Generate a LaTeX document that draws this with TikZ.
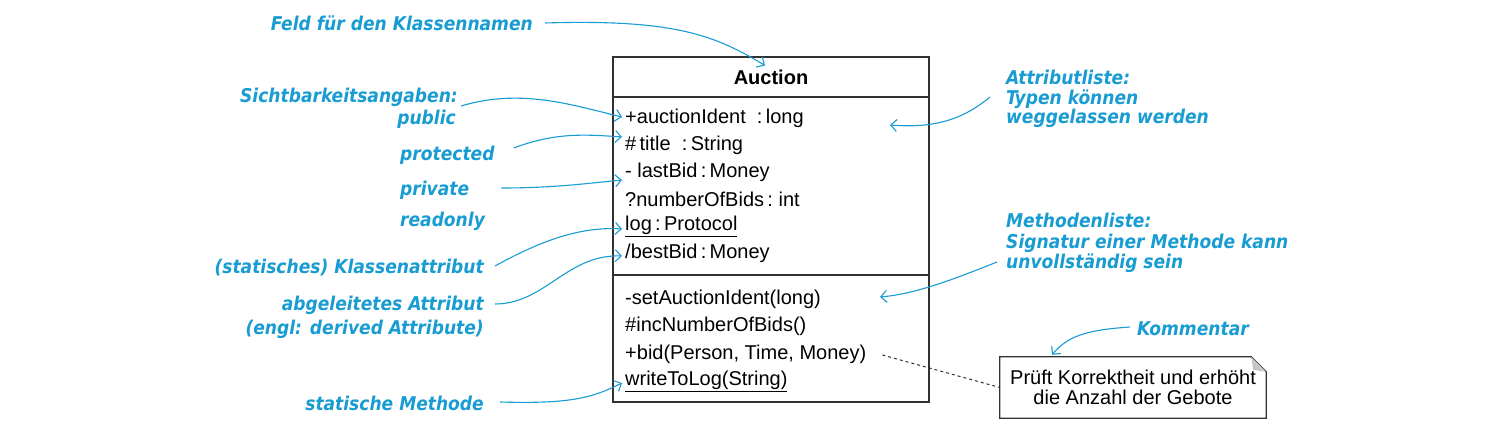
\documentclass[tikz,border=0pt]{standalone}
\usepackage{fontspec}
\setmainfont{Liberation Sans}
\newfontfamily\handfont{DejaVu Sans Condensed Bold Oblique}
\usetikzlibrary{arrows.meta}
\definecolor{annoblue}{RGB}{24,156,210}
\definecolor{umlgray}{RGB}{50,50,50}

\begin{document}
\begin{tikzpicture}[x=1pt, y=-1pt, >={Straight Barb[length=6pt,width=12pt]},
    member/.style={anchor=west, inner sep=0pt, font=\fontsize{20}{22}\selectfont},
    hand/.style={inner sep=0pt, text=annoblue, font=\handfont\fontsize{19}{22}\selectfont},
    anno/.style={->, annoblue, line width=1.1pt}]
    \useasboundingbox (0,0) rectangle (1500,423);

    % Class box
    \draw[umlgray, line width=1.3pt] (613,57) rectangle (929,402);
    \draw[umlgray, line width=1.3pt] (613,97) -- (929,97);
    \draw[umlgray, line width=1.3pt] (613,275) -- (929,275);
    \node[inner sep=0pt, font=\fontsize{20}{22}\selectfont\bfseries] (title) at (771,77) {Auction};

    % Attributes
    \node[member] (a1) at (625,118) {+auctionIdent\ \ :\,long};
    \node[member] (a2) at (625,145) {\#\,title\ \ :\,String};
    \node[member] (a3) at (625,172) {-\ lastBid\,:\,Money};
    \node[member] (a4) at (625,199) {?numberOfBids\,:\ int};
    \node[member] (a5) at (625,226) {\underline{log\,:\,Protocol}};
    \node[member] (a6) at (625,253) {/bestBid\,:\,Money};

    % Methods
    \node[member] (m1) at (625,299) {-setAuctionIdent(long)};
    \node[member] (m2) at (625,326) {\#incNumberOfBids()};
    \node[member] (m3) at (625,354) {+bid(Person, Time, Money)};
    \node[member] (m4) at (625,381) {\underline{writeToLog(String)}};

    % Note
    \node[inner sep=0pt, minimum width=266pt, minimum height=61pt, align=center,
          font=\fontsize{20}{20}\selectfont] (note) at (1133,387.5)
          {Prüft Korrektheit und erhöht\\die Anzahl der Gebote};
    \draw[umlgray, line width=1.3pt] (note.south west) -- (note.north west)
        -- ([xshift=-15pt]note.north east) -- ([yshift=-15pt]note.north east)
        -- (note.south east) -- cycle;
    \fill[gray!45] ([xshift=-15pt]note.north east) -- ([xshift=-13pt,yshift=-13pt]note.north east)
        -- ([yshift=-15pt]note.north east) -- cycle;
    \draw[umlgray, dashed, line width=1pt] ([xshift=16pt,yshift=-1pt]m3.east) -- (note.west);

    % Annotations left
    \node[hand, anchor=east] (feld) at (533,23) {Feld für den Klassennamen};
    \draw[anno] ([xshift=12pt]feld.east) .. controls +(130,-4) and +(-50,-30) .. ([xshift=-6pt,yshift=4pt]title.north);

    \node[hand, anchor=east] (sicht) at (458,97) {Sichtbarkeitsangaben:};
    \node[hand, anchor=east] (public) at (456,119) {public};
    \draw[anno] ([xshift=3pt,yshift=-9pt]sicht.east) .. controls +(60,-18) and +(-50,-12) .. ([xshift=-3pt,yshift=1pt]a1.west);

    \node[hand, anchor=west] (prot) at (400,155) {protected};
    \draw[anno] ([xshift=19pt,yshift=7pt]prot.east) .. controls +(40,-15) and +(-40,-3) .. ([xshift=-3pt,yshift=8pt]a2.west);

    \node[hand, anchor=west] (priv) at (400,190) {private};
    \draw[anno] ([xshift=32pt,yshift=2pt]priv.east) .. controls +(50,0) and +(-40,4) .. ([xshift=-3pt,yshift=-8pt]a3.west);

    \node[hand, anchor=west] (readonly) at (400,221) {readonly};

    \node[hand, anchor=east] (klasse) at (484,268) {(statisches) Klassenattribut};
    \draw[anno] ([xshift=11pt,yshift=2pt]klasse.east) .. controls +(40,-22) and +(-45,-3) .. ([xshift=-3pt,yshift=-3pt]a5.west);

    \node[hand, anchor=east] (abgel) at (484,305) {abgeleitetes Attribut};
    \node[hand, anchor=east] (engl) at (484,329) {(engl: derived Attribute)};
    \draw[anno] ([xshift=11pt,yshift=1pt]abgel.east) .. controls +(50,0) and +(-55,-2) .. ([xshift=-3pt,yshift=-3pt]a6.west);

    \node[hand, anchor=east] (statm) at (484,403) {statische Methode};
    \draw[anno] ([xshift=16pt,yshift=1pt]statm.east) .. controls +(70,2) and +(-30,15) .. ([xshift=-3pt,yshift=-2pt]m4.west);

    % Annotations right
    \coordinate (attrtip) at (890,125);
    \coordinate (methtip) at (880,297);
    \node[hand, anchor=west, align=left, font=\handfont\fontsize{19}{19.5}\selectfont] (attrl) at (1006,99)
        {Attributliste:\\Typen können\\weggelassen werden};
    \draw[anno] ([xshift=-16pt,yshift=2pt]attrl.west) .. controls +(-30,25) and +(40,3) .. (attrtip);

    \node[hand, anchor=west, align=left, font=\handfont\fontsize{19}{20.5}\selectfont] (methl) at (1006,243)
        {Methodenliste:\\Signatur einer Methode kann\\unvollständig sein};
    \draw[anno] ([xshift=-9pt,yshift=-19pt]methl.west) .. controls +(-45,18) and +(35,-3) .. (methtip);

    \node[hand, anchor=west] (komm) at (1137,329) {Kommentar};
    \draw[anno] ([xshift=-7pt,yshift=2pt]komm.west) .. controls +(-45,3) and +(15,-18) .. ([xshift=-81pt,yshift=2pt]note.north);
\end{tikzpicture}
\end{document}
